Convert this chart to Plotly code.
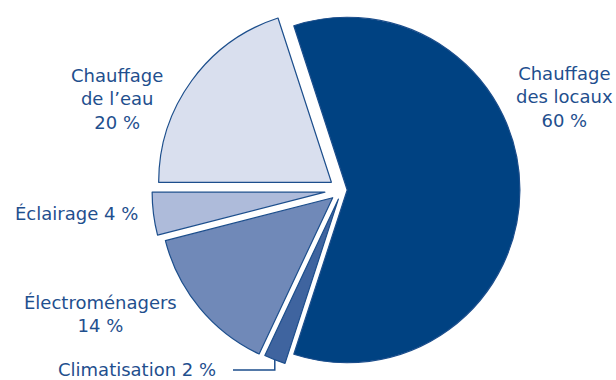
import math
import plotly.graph_objects as go

# Household energy use by end use (percent of total)
categories = ["Chauffage des locaux", "Climatisation", "Électroménagers", "Éclairage", "Chauffage de l’eau"]
shares = [60, 2, 14, 4, 20]
# how each category name is broken over lines in its label
label_lines = [["Chauffage", "des locaux"], ["Climatisation"], ["Électroménagers"], ["Éclairage"], ["Chauffage", "de l’eau"]]
value_on_new_line = [True, False, True, False, True]

# ---- styling -------------------------------------------------------------
W, H = 616, 380
colors = ["#004282", "#3f649f", "#7089b8", "#aebbda", "#d9dfee"]
outline = "#1c4e8c"
text_color = "#1f4f8e"
pulls = [0.03, 0.057, 0.07, 0.10, 0.076]
rotation = -18
cx, cy = 342, 190          # pie centre in pixels
font = "DejaVu Sans"
fsize = 18

# label anchor points (pixels)
label_pos = [(564, 97), (137, 369), (100, 314), (76, 213), (117, 99)]


def label_text(i):
    sep = "<br>" if value_on_new_line[i] else " "
    return "<br>".join(label_lines[i]) + sep + f"{shares[i]} %"


fig = go.Figure(
    go.Pie(
        labels=categories,
        values=shares,
        sort=False,
        direction="clockwise",
        rotation=rotation,
        pull=pulls,
        textinfo="none",
        hoverinfo="label+percent",
        marker=dict(colors=colors, line=dict(color=outline, width=1.2)),
        domain=dict(x=[(cx - H / 2) / W, (cx + H / 2) / W], y=[0, 1]),
        showlegend=False,
    )
)

annotations = []
for i, (px, py) in enumerate(label_pos):
    annotations.append(
        dict(
            x=px / W, y=1 - py / H, xref="paper", yref="paper",
            text=label_text(i), showarrow=False,
            xanchor="center", yanchor="middle", align="center",
            font=dict(family=font, size=fsize, color=text_color),
        )
    )

# leader line from the small "Climatisation" slice to its label
total = sum(shares)
radius = (H / 2) / (1 + max(pulls))
k = 1
start = rotation + 360 * sum(shares[:k]) / total
mid = math.radians(start + 180 * shares[k] / total)
dx, dy = math.sin(mid), -math.cos(mid)
ax = cx + (pulls[k] + 1) * radius * dx
ay = cy + (pulls[k] + 1) * radius * dy
ly = 370
lx_end = 233
path = f"M {ax / W} {1 - ay / H} L {ax / W} {1 - ly / H} L {lx_end / W} {1 - ly / H}"

fig.update_layout(
    width=W, height=H,
    margin=dict(l=0, r=0, t=0, b=0),
    paper_bgcolor="white",
    plot_bgcolor="white",
    annotations=annotations,
    shapes=[dict(type="path", path=path, xref="paper", yref="paper",
                 line=dict(color=outline, width=1.5))],
)

fig.write_html("out.html")
